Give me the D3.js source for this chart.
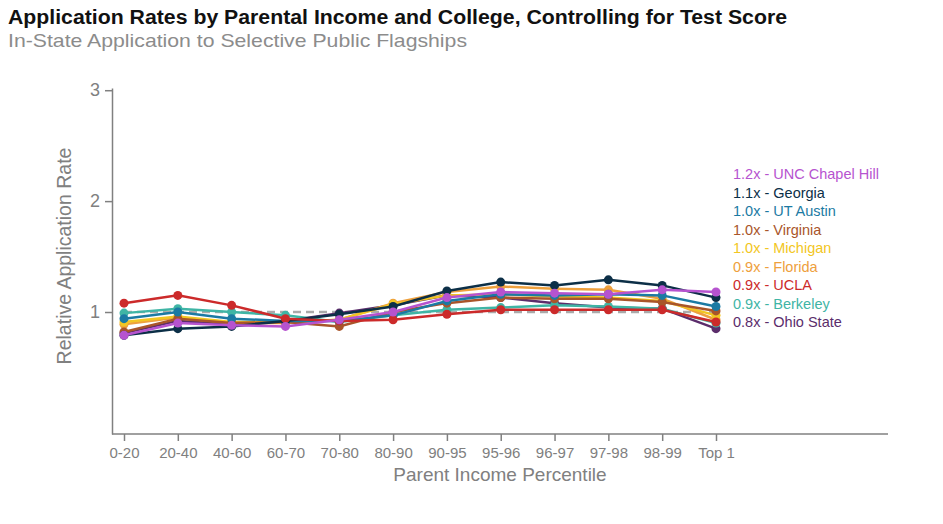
<!DOCTYPE html>
<html>
<head>
<meta charset="utf-8">
<script src="https://cdn.jsdelivr.net/npm/d3@7"></script>
<style>
body { margin: 0; background: #fff; }
text { font-family: "Liberation Sans", Arial, sans-serif; }
</style>
</head>
<body>
<div id="chart"></div>
<script>
// Категории по оси X
const categories = ['0-20', '20-40', '40-60', '60-70', '70-80', '80-90', '90-95', '95-96', '96-97', '97-98', '98-99', 'Top 1']

// Значения по каждому университету
const uncChapelHill = [0.79, 0.90, 0.88, 0.87, 0.93, 1.00, 1.13, 1.18, 1.17, 1.16, 1.20, 1.18]
const georgia       = [0.79, 0.85, 0.87, 0.92, 0.98, 1.05, 1.19, 1.27, 1.24, 1.29, 1.24, 1.13]
const utAustin      = [0.94, 1.00, 0.94, 0.92, 0.92, 0.97, 1.10, 1.16, 1.15, 1.16, 1.15, 1.05]
const virginia      = [0.82, 0.94, 0.90, 0.91, 0.87, 1.00, 1.08, 1.13, 1.12, 1.12, 1.09, 1.01]
const michigan      = [0.91, 0.96, 0.91, 0.91, 0.93, 1.07, 1.15, 1.16, 1.14, 1.13, 1.10, 0.97]
const florida       = [0.89, 0.95, 0.90, 0.90, 0.93, 1.08, 1.18, 1.23, 1.21, 1.20, 1.12, 0.93]
const ucla          = [1.08, 1.15, 1.06, 0.94, 0.92, 0.93, 0.98, 1.02, 1.02, 1.02, 1.02, 0.91]
const berkeley      = [0.99, 1.03, 1.00, 0.97, 0.91, 0.97, 1.02, 1.04, 1.06, 1.05, 1.03, 0.90]
const ohioState     = [0.81, 0.92, 0.89, 0.92, 0.99, 1.06, 1.15, 1.13, 1.08, 1.04, 1.03, 0.85]

// Подписи легенды (в порядке сверху вниз)
const legendLabels = ['1.2x - UNC Chapel Hill', '1.1x - Georgia', '1.0x - UT Austin', '1.0x - Virginia',
    '1.0x - Michigan', '0.9x - Florida', '0.9x - UCLA', '0.9x - Berkeley', '0.8x - Ohio State']
const seriesValues = [uncChapelHill, georgia, utAustin, virginia, michigan, florida, ucla, berkeley, ohioState]
const colors = ['#b653cf', '#0c2f47', '#1b7aa3', '#a9552a', '#f2c623', '#eea03d', '#cc2a2a', '#3fb5a5', '#5b2d6b']

const yTicks = [1, 2, 3]
const refValue = 1

const W = 943, H = 524
const GRAY = '#808080'

let svg = d3.select('#chart').append('svg')
    .attr('width', W)
    .attr('height', H)

// Заголовки
svg.append('text')
    .attr('x', 8).attr('y', 24)
    .attr('font-size', 20).attr('font-weight', 'bold')
    .attr('fill', '#111')
    .attr('textLength', 779).attr('lengthAdjust', 'spacingAndGlyphs')
    .text('Application Rates by Parental Income and College, Controlling for Test Score')

svg.append('text')
    .attr('x', 8).attr('y', 47)
    .attr('font-size', 19)
    .attr('fill', '#8c8c8c')
    .attr('textLength', 459).attr('lengthAdjust', 'spacingAndGlyphs')
    .text('In-State Application to Selective Public Flagships')

// Шкалы
let x = d3.scalePoint().domain(categories).range([124, 716])
let y = d3.scaleLinear().domain([-0.1, 3.02]).range([434, 88])

// Ось Y
let yAxis = svg.append('g')
    .attr('transform', 'translate(112,0)')
    .call(d3.axisLeft(y).tickValues(yTicks).tickSize(7).tickSizeOuter(0).tickFormat(d3.format('d')))
yAxis.select('.domain').attr('stroke', GRAY).attr('stroke-width', 1.5)
yAxis.selectAll('.tick line').attr('stroke', GRAY).attr('stroke-width', 1.5)
yAxis.selectAll('.tick text').attr('fill', GRAY).attr('font-size', 18).attr('dx', -2)

// Ось X
svg.append('line')
    .attr('x1', 112).attr('x2', 888)
    .attr('y1', 434).attr('y2', 434)
    .attr('stroke', GRAY).attr('stroke-width', 1.5)
let xAxis = svg.append('g')
    .attr('transform', 'translate(0,434)')
    .call(d3.axisBottom(x).tickSize(7).tickSizeOuter(0))
xAxis.select('.domain').remove()
xAxis.selectAll('.tick line').attr('stroke', GRAY).attr('stroke-width', 1.5)
xAxis.selectAll('.tick text').attr('fill', GRAY).attr('font-size', 15).attr('dy', '0.9em')

// Подписи осей
svg.append('text')
    .attr('x', 500).attr('y', 481)
    .attr('text-anchor', 'middle')
    .attr('font-size', 19).attr('fill', GRAY)
    .text('Parent Income Percentile')

svg.append('text')
    .attr('transform', 'translate(71,256) rotate(-90)')
    .attr('text-anchor', 'middle')
    .attr('font-size', 19.5).attr('fill', GRAY)
    .text('Relative Application Rate')

// Пунктир на уровне 1
svg.append('line')
    .attr('x1', x(categories[0])).attr('x2', x(categories[categories.length - 1]))
    .attr('y1', y(refValue)).attr('y2', y(refValue))
    .attr('stroke', '#aaaaaa').attr('stroke-width', 2.5)
    .attr('stroke-dasharray', '8,5')

// Линии и точки, снизу вверх
let line = d3.line()
    .x((d, i) => x(categories[i]))
    .y(d => y(d))

let order = [8, 7, 5, 4, 3, 2, 1, 6, 0]
for (let k of order) {
    let g = svg.append('g')
    g.append('path')
        .datum(seriesValues[k])
        .attr('d', line)
        .attr('fill', 'none')
        .attr('stroke', colors[k])
        .attr('stroke-width', 2.5)
    g.selectAll('circle')
        .data(seriesValues[k])
        .enter().append('circle')
        .attr('cx', (d, i) => x(categories[i]))
        .attr('cy', d => y(d))
        .attr('r', 4.5)
        .attr('fill', colors[k])
}

// Легенда
svg.selectAll('.legend')
    .data(legendLabels)
    .enter().append('text')
    .attr('class', 'legend')
    .attr('x', 733)
    .attr('y', (d, i) => 174 + i * 18.5)
    .attr('dy', '0.35em')
    .attr('font-size', 14.5)
    .attr('fill', (d, i) => colors[i])
    .text(d => d)
</script>
</body>
</html>
